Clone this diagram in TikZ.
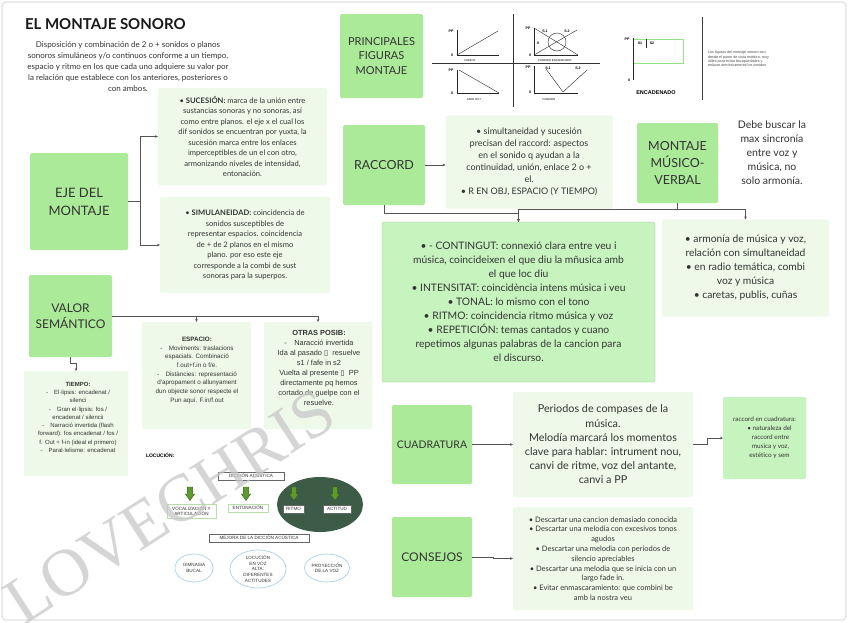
\documentclass[tikz,border=0pt]{standalone}
\usepackage{fontspec}
\setmainfont{Lato}
\newfontfamily\arialf{Liberation Sans}
\newfontfamily\seriff{Liberation Serif}
\newfontfamily\dejavu{DejaVu Sans}
\usetikzlibrary{shapes.geometric,arrows.meta}
\definecolor{dgreen}{HTML}{ABEA98}
\definecolor{mgreen}{HTML}{C6F3BE}
\definecolor{lgreen}{HTML}{EEF9EA}
\definecolor{txt}{HTML}{333333}
\definecolor{linec}{HTML}{555555}
\definecolor{darkell}{HTML}{3D5C48}
\definecolor{arrg}{HTML}{5E9A2E}
\definecolor{blueell}{HTML}{A9D3E6}
\definecolor{boxg}{HTML}{B7DDA8}
\newcommand{\fs}[2]{\fontsize{#1}{#2}\selectfont}
\newcommand{\tofu}{{\dejavu ▯}}
\begin{document}
\begin{tikzpicture}[x=1pt,y=-1pt,
  every node/.style={text=txt, inner sep=0pt, outer sep=0pt},
  dbox/.style={fill=dgreen, rounded corners=1.5pt, align=center},
  mbox/.style={fill=mgreen, draw=dgreen!80!black!90, line width=0.3pt, rounded corners=1.5pt, align=center},
  lbox/.style={fill=lgreen, rounded corners=1.5pt, align=center},
  conn/.style={draw=linec, line width=0.6pt, -{Stealth[length=3pt,width=2.6pt]}},
  gline/.style={draw=black!85, line width=0.4pt},
  glab/.style={font=\arialf\bfseries\fs{3.6}{4}, text=black},
  tbox/.style={draw=black!60, fill=white, line width=0.4pt, font=\arialf\fs{4.6}{5.4}, align=center, inner sep=1pt},
  gbox/.style={draw=boxg, fill=white, line width=0.6pt, font=\arialf\fs{4.6}{5.4}, align=center, inner sep=1pt},
  bell/.style={ellipse, draw=blueell, line width=0.7pt, fill=white, font=\arialf\fs{4.6}{5.6}, align=center},
]
\useasboundingbox (0,0) rectangle (848,622);
\fill[white] (0,0) rectangle (848,622);
\draw[draw=black!12, line width=1.2pt, rounded corners=4pt] (2,2) rectangle (846,620);

% ---------- title & intro ----------
\node[anchor=west, font=\bfseries\fs{15}{18}, text=black!90] (title) at (25,24) {EL MONTAJE SONORO};
\node[align=center, font=\fs{8}{10.8}] (intro) at (128,66.5) {Disposición y combinación de 2 o + sonidos o planos\\ sonoros simuláneos y/o continuos conforme a un tiempo,\\ espacio y ritmo en los que cada uno adquiere su valor por\\ la relación que establece con los anteriores, posteriores o\\ con ambos.};

% ---------- EJE DEL MONTAJE ----------
\node[dbox, minimum width=98pt, minimum height=97pt, font=\fs{13}{18}] (eje) at (79,201.5) {EJE DEL\\MONTAJE};
\node[lbox, minimum width=169pt, minimum height=97pt, font=\fs{7.6}{10.5}] (suc) at (242.5,136.5) {• \textbf{SUCESIÓN:} marca de la unión entre\\ sustancias sonoras y no sonoras, así\\ como entre planos. el eje x el cual los\\ dif sonidos se encuentran por yuxta, la\\ sucesión marca entre los enlaces\\ imperceptibles de un el con otro,\\ armonizando niveles de intensidad,\\ entonación.};
\node[lbox, minimum width=170pt, minimum height=96pt, font=\fs{7.6}{10.5}] (sim) at (245,245) {• \textbf{SIMULANEIDAD:} coincidencia de\\ sonidos susceptibles de\\ representar espacios. coincidencia\\ de + de 2 planos en el mismo\\ plano. por eso este eje\\ corresponde a la combi de sust\\ sonoras para la superpos.};
\draw[conn] (eje.east) -- ++(12,0) |- (suc.west);
\draw[conn] (eje.east) -- ++(12,0) |- (sim.west);

% ---------- VALOR SEMANTICO ----------
\node[dbox, minimum width=83pt, minimum height=82pt, font=\fs{12}{16}] (valor) at (70.5,316) {VALOR\\SEMÁNTICO};
\node[lbox, minimum width=104pt, minimum height=105pt] (tiempo) at (76,423.5) {};
\node[anchor=north, align=center, font=\arialf\fs{6}{8.3}] (tiempotxt) at (78,382) {\textbf{TIEMPO:}\\ -\quad El·lipsis: encadenat /\\ silenci\\ -\quad Gran el·lipsis: fos /\\ encadenat / silencii\\ -\quad Narració invertida (flash\\ forward): fos encadenat / fos /\\ f. Out + f-in (ideal el primero)\\ -\quad Paral·lelisme: encadenat};
\node[lbox, minimum width=109pt, minimum height=107pt] (espacio) at (196.5,375.5) {};
\node[anchor=north, align=center, font=\arialf\fs{6.3}{8.7}] (espaciotxt) at (197,337) {\textbf{ESPACIO:}\\ -\quad Moviments: traslacions\\ espacials. Combinació\\ f.out+f.in o f/e.\\ -\quad Distàncies: representació\\ d'apropament o allunyament\\ dun objecte sonor respecte el\\ Pun aquí. F.in/f.out};
\node[lbox, minimum width=108pt, minimum height=107pt] (otras) at (318,375.5) {};
\node[anchor=north, align=center, font=\arialf\fs{7.4}{10}] (otrastxt) at (319,330) {\textbf{OTRAS POSIB:}\\ -\quad Naracció invertida\\ Ida al pasado \tofu\ \ resuelve\\ s1 / fafe in s2\\ Vuelta al presente \tofu\ \ PP\\ directamente pq hemos\\ cortado de guelpe con el\\ resuelve.};
\draw[conn] (valor.south) -- ++(0,6) -| (tiempo.north);
\draw[conn] (valor.east) -| (espacio.north);
\draw[conn] (valor.east) -| (otras.north);

% ---------- PRINCIPALES FIGURAS ----------
\node[dbox, minimum width=83pt, minimum height=84pt, font=\fs{11}{14.5}] (princ) at (381.5,56) {PRINCIPALES\\FIGURAS\\MONTAJE};
\draw[draw=black!80, line width=0.9pt] (513,14) -- (513,107);
\draw[draw=black!80, line width=0.9pt] (432,63) -- (600,63);
% fade in
\draw[gline] (457,30) -- (457,55) -- (499,55);
\draw[gline] (457,55) -- (498,31);
\node[glab] (g1pp) at (451,31) {PP};
\node[glab] (g1z) at (452,55) {0};
\node[glab, font=\arialf\fs{2.8}{3}] (g1c) at (470,61) {FADE IN};
% fundido encadenado
\draw[gline] (534,28) -- (534,55) -- (578,55);
\draw[gline] (534,28) -- (578,55);
\draw[gline] (534,55) -- (577,30);
\draw[gline] (557,42) circle (9);
\node[glab] (g2pp) at (528,28) {PP};
\node[glab] (g2s1) at (545,31) {S.1};
\node[glab] (g2s2) at (567,31) {S.2};
\node[glab] (g2m) at (538,43) {0};
\node[glab] (g2z) at (530,55) {0};
\node[glab, font=\arialf\fs{2.8}{3}] (g2c) at (555,61) {FUNDIDO ENCADENADO};
% fade out
\draw[gline] (457,70) -- (457,93) -- (499,93);
\draw[gline] (459,70) -- (499,93);
\node[glab] (g3pp) at (451,70) {PP};
\node[glab] (g3z) at (452,93) {0};
\node[glab, font=\arialf\fs{2.8}{3}] (g3c) at (474,100) {FADE OUT};
% fundido
\draw[gline] (534,66) -- (534,93) -- (578,93);
\draw[gline] (546,69) -- (563,92) -- (587,70);
\node[glab] (g4pp) at (528,67) {PP};
\node[glab] (g4s1) at (548,68) {S.1};
\node[glab] (g4s2) at (578,68) {S.2};
\node[glab] (g4z) at (530,92) {0};
\node[glab, font=\arialf\fs{2.8}{3}] (g4c) at (549,100) {FUNDIDO};
% encadenado
\draw[draw=boxg!80!green, line width=0.6pt] (633,39) rectangle (683,63);
\draw[gline] (633,38) -- (633,80);
\draw[gline] (646,39) -- (646,48);
\node[glab] (g5pp) at (627,39) {PP};
\node[glab] (g5s1) at (640,43) {S1};
\node[glab] (g5s2) at (652,43) {S2};
\node[glab] (g5z) at (629,80) {0};
\node[glab, font=\arialf\bfseries\fs{5.5}{6}] (g5c) at (656,93) {ENCADENADO};
\draw[draw=black!75, line width=1pt] (702,17) -- (702,100);
\node[anchor=west, align=left, font=\arialf\fs{3.7}{4.3}, text=black!70] (ftxt) at (708,59) {Los figuras del montaje sonoro son,\\ desde el punto de vista estético, muy\\ útiles para evitar brusquedades y\\ enlazar armónicamente los sonidos};

% ---------- RACCORD ----------
\node[dbox, minimum width=82pt, minimum height=80pt, font=\fs{12.5}{16}] (raccord) at (384,165) {RACCORD};
\node[lbox, minimum width=167pt, minimum height=93pt, font=\fs{9}{12}] (raccordtxt) at (529,162) {• simultaneidad y sucesión\\ precisan del raccord: aspectos\\ en el sonido q ayudan a la\\ continuidad, unión, enlace 2 o +\\ el.\\ • R EN OBJ, ESPACIO (Y TIEMPO)};
\draw[conn] (raccord.east) -- (raccord.east -| raccordtxt.west);

% ---------- MONTAJE MUSICO-VERBAL ----------
\node[dbox, minimum width=81pt, minimum height=80pt, font=\fs{12.5}{17}] (mmv) at (677.5,163) {MONTAJE\\MÚSICO-\\VERBAL};
\node[align=center, font=\fs{10.5}{14}] (debe) at (772,153) {Debe buscar la\\ max sincronía\\ entre voz y\\ música, no\\ solo armonía.};
\node[lbox, minimum width=167pt, minimum height=97pt, font=\fs{10.3}{14}] (mmvr) at (745.5,268) {• armonía de música y voz,\\ relación con simultaneidad\\ • en radio temática, combi\\ voz y música\\ • caretas, publis, cuñas};
\node[mbox, minimum width=273pt, minimum height=160pt, font=\fs{10.3}{14}] (big) at (518.5,302) {• - CONTINGUT: connexió clara entre veu i\\ música, coincideixen el que diu la mñusica amb\\ el que loc diu\\ • INTENSITAT: coincidència intens música i veu\\ • TONAL: lo mismo con el tono\\ • RITMO: coincidencia ritmo música y voz\\ • REPETICIÓN: temas cantados y cuano\\ repetimos algunas palabras de la cancion para\\ el discurso.};
\draw[conn] (raccord.south) -- ++(0,8) -| (big.north);
\draw[conn] (mmv.south) -- ++(0,6) -| (big.north);
\draw[conn] (mmv.south) -- ++(0,6) -| (mmvr.north);

% ---------- CUADRATURA ----------
\node[dbox, minimum width=80pt, minimum height=79pt, font=\fs{10.5}{14}] (cuad) at (432,444.5) {CUADRATURA};
\node[lbox, minimum width=180pt, minimum height=105pt, font=\fs{10.8}{14.2}] (periodos) at (603,444.5) {Periodos de compases de la\\ música.\\ Melodía marcará los momentos\\ clave para hablar: intrument nou,\\ canvi de ritme, voz del antante,\\ canvi a PP};
\node[mbox, draw=none, minimum width=83pt, minimum height=82pt, font=\fs{6.4}{9}] (rcuad) at (764.5,438) {raccord en cuadratura:\\ \hspace*{10pt}• naturaleza del\\ \hspace*{12pt}raccord entre\\ \hspace*{12pt}musica y voz,\\ \hspace*{10pt}estético y sem};
\draw[conn] (cuad.east) -- (periodos.west);
\draw[conn] (periodos.east) -- ++(14,0) |- (rcuad.west);

% ---------- CONSEJOS ----------
\node[dbox, minimum width=80pt, minimum height=80pt, font=\fs{12}{15}] (consejos) at (432,557) {CONSEJOS};
\node[lbox, minimum width=180pt, minimum height=103pt, font=\fs{7.5}{9.8}] (constxt) at (603,558.5) {• Descartar una cancion demasiado conocida\\ • Descartar una melodia con excesivos tonos\\ agudos\\ • Descartar una melodia con periodos de\\ silencio apreciables\\ • Descartar una melodia que se inicia con un\\ largo fade in.\\ • Evitar enmascaramiento: que combini be\\ amb la nostra veu};
\draw[conn] (consejos.east) -- ++(21,0) |- (constxt.west);

% ---------- LOCUCION ----------
\node[anchor=west, font=\arialf\bfseries\fs{5}{6}, text=black] (loc) at (146,455) {LOCUCIÓN:};
\node[tbox, minimum width=66pt, minimum height=8pt] (diccion) at (251,476) {DICCIÓN ACÚSTICA};
\node[ellipse, fill=darkell, minimum width=86pt, minimum height=55pt] (dell) at (320,504.5) {};
\foreach \cx in {190,246,294,335}{
  \filldraw[fill=arrg, draw=arrg!60!black, line width=0.4pt]
    (\cx-2.6,487) -- (\cx+2.6,487) -- (\cx+2.6,494) -- (\cx+4.6,494) -- (\cx,500.5) -- (\cx-4.6,494) -- (\cx-2.6,494) -- cycle;
}
\node[gbox, minimum width=49pt, minimum height=14pt] (vocal) at (191.5,511) {VOCALIZACIÓN Y\\ARTICULACIÓN};
\node[gbox, minimum width=40pt, minimum height=8pt] (entona) at (248,508) {ENTONACIÓN};
\node[tbox, minimum width=21pt, minimum height=8pt] (ritmo) at (293.5,509) {RITMO};
\node[tbox, minimum width=28pt, minimum height=8pt] (actitud) at (337,509) {ACTITUD};
\node[tbox, minimum width=100pt, minimum height=8pt] (mejora) at (259,538) {MEJORA DE LA DICCIÓN ACÚSTICA};
\node[bell, minimum width=38pt, minimum height=28pt] (gimn) at (194,568) {GIMNASIA\\BUCAL};
\node[bell, minimum width=56pt, minimum height=38pt] (locvoz) at (258,569) {LOCUCIÓN\\EN VOZ\\ALTA:\\DIFERENTES\\ACTITUDES};
\node[bell, minimum width=45pt, minimum height=28pt] (proy) at (327,568) {PROYECCIÓN\\DE LA VOZ};

% ---------- watermark ----------
\node[rotate=32.7, font=\seriff\fs{67}{70}, text=black!22, text opacity=0.75] (wm) at (170,507) {LOVECHRIS};
\end{tikzpicture}
\end{document}
